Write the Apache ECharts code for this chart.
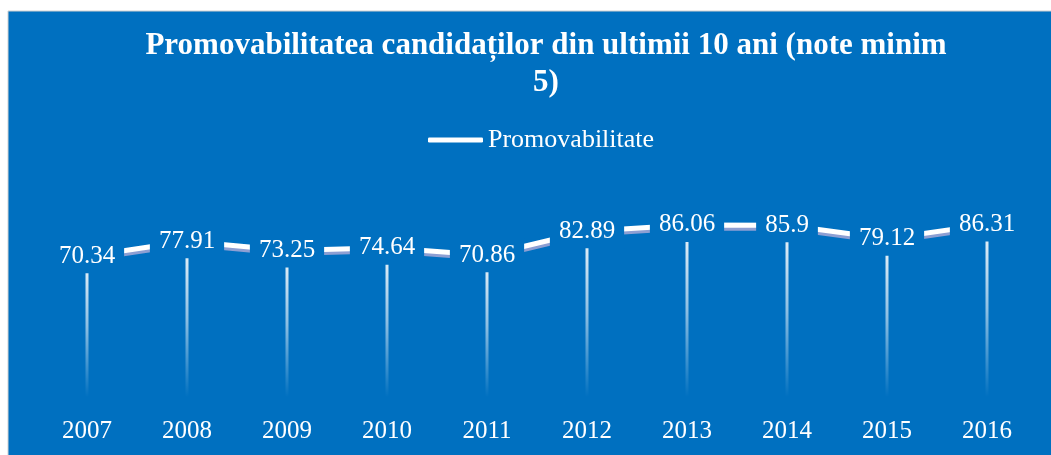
<!DOCTYPE html>
<html>
<head>
<meta charset="utf-8">
<script src="https://cdn.jsdelivr.net/npm/echarts@6/dist/echarts.min.js"></script>
<style>
html,body{margin:0;padding:0;background:#fff;}
#chart{width:1051px;height:455px;}
</style>
</head>
<body>
<div id="chart"></div>
<script>
const categories = ['2007','2008','2009','2010','2011','2012','2013','2014','2015','2016'];
const promovabilitate = [70.34, 77.91, 73.25, 74.64, 70.86, 82.89, 86.06, 85.9, 79.12, 86.31];
const seriesName = 'Promovabilitate';
const titleText = 'Promovabilitatea candidaților din ultimii 10 ani (note minim\n5)';

const BLUE = '#0070C0';
const SERIF = '"Liberation Serif","DejaVu Serif",serif';

const chart = echarts.init(document.getElementById('chart'));
chart.setOption({
  backgroundColor: '#ffffff',
  animation: false,
  graphic: {
    elements: [
      { type: 'rect', z: -100, shape: { x: 8, y: 11, width: 1100, height: 500 },
        style: { fill: BLUE, stroke: '#d0d0d0', lineWidth: 1 } },
      { type: 'text', z: 10, x: 546, y: 27,
        style: { text: titleText, fill: '#ffffff', font: 'bold 31px ' + SERIF,
                 textAlign: 'center', textVerticalAlign: 'top', lineHeight: 37 } }
    ]
  },
  legend: {
    data: [seriesName],
    left: 428, top: 127, padding: 0,
    itemWidth: 55, itemHeight: 5, icon: 'roundRect',
    itemStyle: { color: '#ffffff', borderWidth: 0, opacity: 1 },
    textStyle: { color: '#ffffff', fontSize: 26, fontFamily: SERIF }
  },
  grid: { left: 37, right: 14, top: 197, bottom: 58 },
  xAxis: {
    type: 'category', data: categories, boundaryGap: true,
    axisLine: { show: false }, axisTick: { show: false }, splitLine: { show: false },
    axisLabel: { color: '#ffffff', fontSize: 25, fontFamily: SERIF, margin: 22 }
  },
  yAxis: { type: 'value', min: 0, max: 100, show: false },
  series: [
    {
      type: 'bar', name: 'drop', data: promovabilitate, barWidth: 3, z: 1,
      silent: true,
      itemStyle: {
        color: { type: 'linear', x: 0, y: 0, x2: 0, y2: 1, colorStops: [
          { offset: 0, color: 'rgba(255,255,255,0.95)' },
          { offset: 0.5, color: 'rgba(255,255,255,0.55)' },
          { offset: 1, color: 'rgba(255,255,255,0)' } ] }
      }
    },
    {
      type: 'line', name: seriesName, data: promovabilitate, z: 3,
      symbol: 'circle', symbolSize: 1, showSymbol: true,
      itemStyle: { color: '#ffffff' },
      lineStyle: { color: '#ffffff', width: 5,
                   shadowColor: '#8d9fd3', shadowBlur: 0, shadowOffsetY: 3 },
      label: {
        show: true, position: 'inside', color: '#ffffff', fontSize: 25,
        fontFamily: SERIF, backgroundColor: BLUE, padding: [7, 9], lineHeight: 20
      }
    }
  ]
});
</script>
</body>
</html>
